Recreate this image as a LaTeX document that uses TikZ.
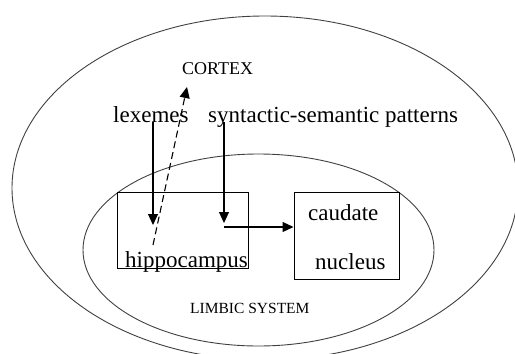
\documentclass[tikz,border=0pt]{standalone}
\usepackage{fontspec}
\setmainfont{Liberation Serif}
\usetikzlibrary{calc}
\usetikzlibrary{positioning}
\usetikzlibrary{arrows.meta}

\tikzset{
  >={Triangle[length=11pt,width=10pt]},
  word/.style={anchor=base west, inner sep=0pt, font=\fontsize{23}{27}\selectfont},
  areaname/.style={anchor=base west, inner sep=0pt, font=\fontsize{18}{22}\selectfont},
  box/.style={rectangle, draw=black, line width=1pt},
  region/.style={draw=black!75, line width=0.9pt},
  flow/.style={->, line width=1.1pt}
}

\begin{document}
\begin{tikzpicture}[x=1pt, y=-1pt]
    \useasboundingbox (0,0) rectangle (515,354);

    % cortex and limbic system
    \draw [region] (265,188) ellipse [x radius=253pt, y radius=172pt];
    \draw [region] (258.5,250) ellipse [x radius=175.5pt, y radius=96pt];

    \node [box, minimum width=131pt, minimum height=76pt] (hippobox) at (182.5,230) {};
    \node [box, minimum width=105pt, minimum height=87pt] (caudatebox) at (346.5,235.5) {};

    \node [areaname] (cortex) at (182,74) {CORTEX};
    \node [areaname, font=\fontsize{15.5}{18}\selectfont] (limbic) at (190,313) {LIMBIC SYSTEM};
    \node [word] (lexemes) at (113,122) {lexemes};
    \node [word] (patterns) at (208,122) {syntactic-semantic patterns};
    \node [word] (hippocampus) at (125,267) {hippocampus};
    \node [word] (caudate) at (308,220) {caudate};
    \node [word] (nucleus) at (315,269) {nucleus};

    \coordinate (lexin) at (153,225);
    \coordinate (recall) at (153,245);
    \coordinate (cortexin) at (187,87);
    \coordinate (synin) at (224,223);
    \coordinate (synturn) at (224,227);

    \draw [flow] (lexin |- lexemes.south) -- (lexin);
    \draw [flow, dash pattern=on 7pt off 4pt] (recall) -- (cortexin);
    \draw [flow] (synin |- lexemes.south) -- (synin);
    \draw [flow] (synturn) -- (synturn -| caudatebox.west);
\end{tikzpicture}
\end{document}
